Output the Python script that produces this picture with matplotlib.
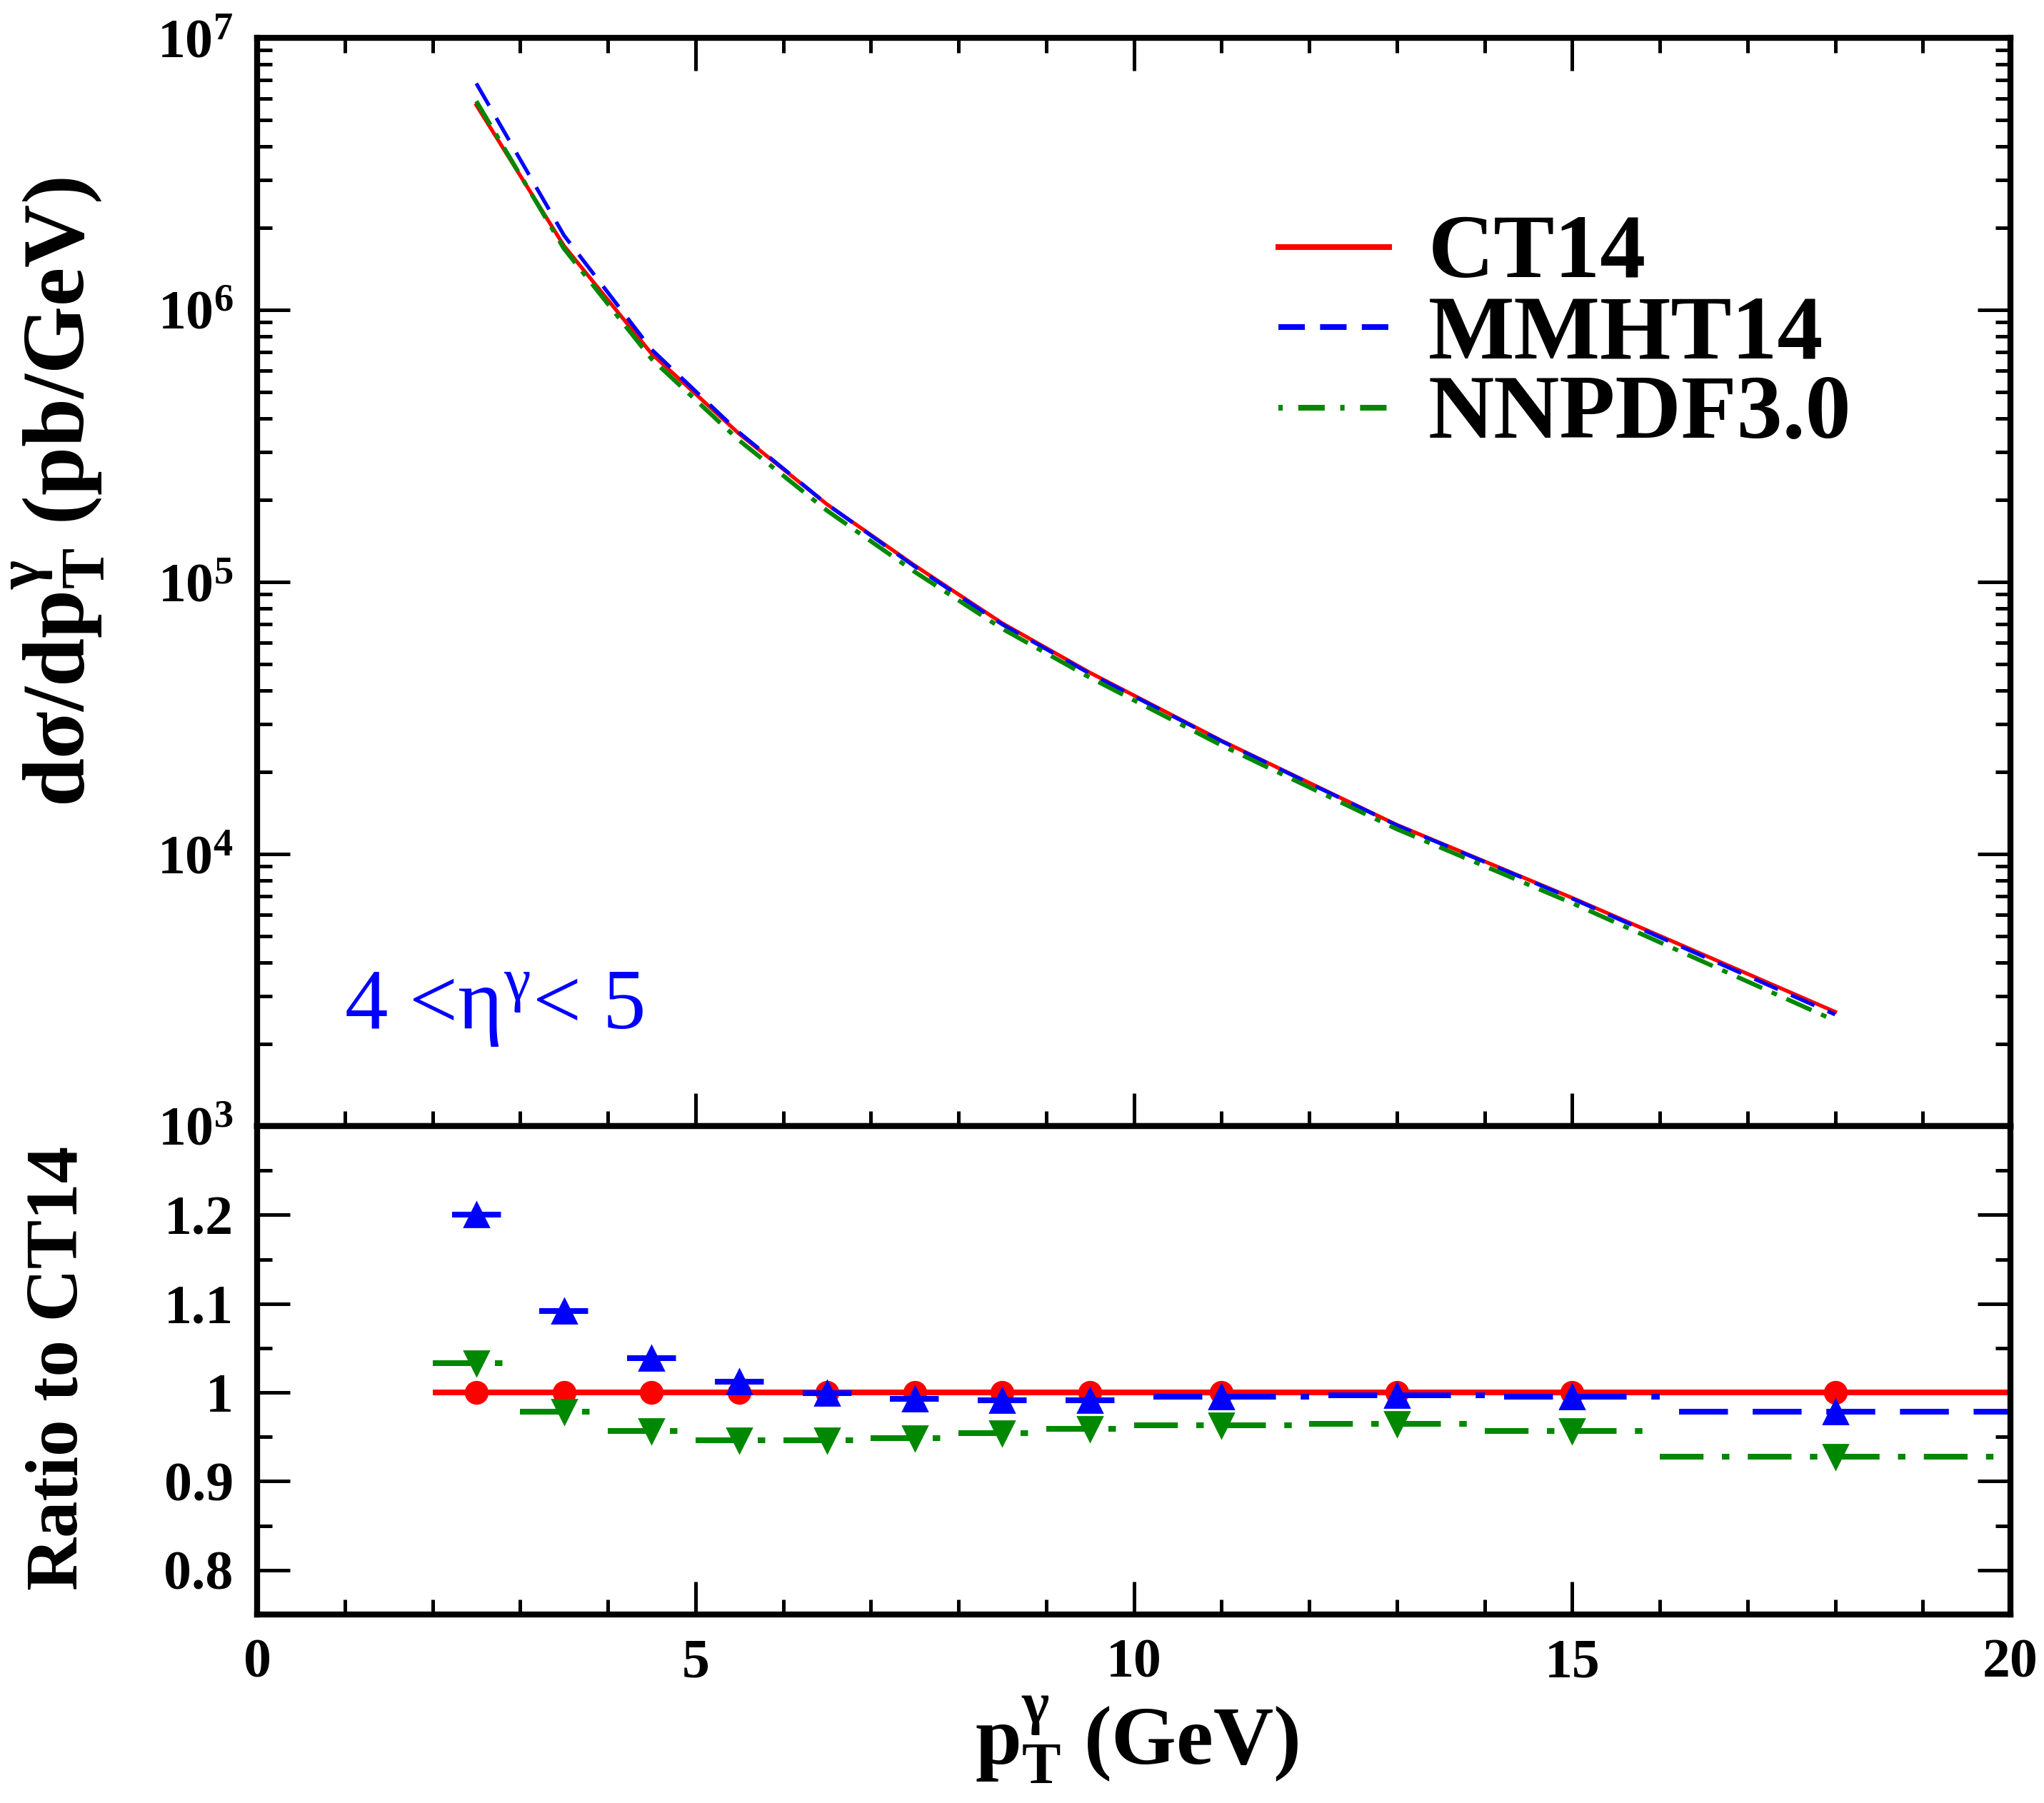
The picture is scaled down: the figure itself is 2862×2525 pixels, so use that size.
import numpy as np
import matplotlib.pyplot as plt
from matplotlib.ticker import MultipleLocator, LogLocator, FixedLocator, FuncFormatter, NullFormatter

# Times-like bold text everywhere, math uses the same font as the text
plt.rcParams['font.family'] = 'Liberation Serif'
plt.rcParams['font.weight'] = 'bold'
plt.rcParams['mathtext.fontset'] = 'custom'
plt.rcParams['mathtext.default'] = 'regular'

# pT bins (GeV)
pt = [2.5, 3.5, 4.5, 5.5, 6.5, 7.5, 8.5, 9.5, 11, 13, 15, 18]
bin_lo = [2, 3, 4, 5, 6, 7, 8, 9, 10, 12, 14, 16]
bin_hi = [3, 4, 5, 6, 7, 8, 9, 10, 12, 14, 16, 20]

# d sigma / d pT (pb/GeV)
xsec_ct14 = [5.66e6, 1.72e6, 6.9e5, 3.5e5, 1.93e5, 1.15e5, 7.05e4, 4.64e4, 2.61e4, 1.28e4, 6.9e3, 2.63e3]
xsec_mmht = [6.8e6, 1.88e6, 7.15e5, 3.54e5, 1.93e5, 1.14e5, 6.98e4, 4.6e4, 2.6e4, 1.276e4, 6.86e3, 2.57e3]
xsec_nnpdf = [5.85e6, 1.68e6, 6.6e5, 3.31e5, 1.83e5, 1.09e5, 6.73e4, 4.45e4, 2.51e4, 1.235e4, 6.6e3, 2.44e3]

# ratio to CT14
ratio_ct14 = [1.0, 1.0, 1.0, 1.0, 1.0, 1.0, 1.0, 1.0, 1.0, 1.0, 1.0, 1.0]
ratio_mmht = [1.200, 1.092, 1.039, 1.012, 0.999, 0.993, 0.991, 0.991, 0.995, 0.997, 0.995, 0.978]
ratio_nnpdf = [1.033, 0.978, 0.957, 0.946, 0.946, 0.949, 0.954, 0.959, 0.963, 0.965, 0.957, 0.928]

labels = ['CT14', 'MMHT14', 'NNPDF3.0']
colors = ['red', 'blue', '#008800']

fig = plt.figure(figsize=(14.31, 12.625), dpi=200)
ax1 = fig.add_axes([0.1258, 0.37545, 0.8578, 0.60356])
ax2 = fig.add_axes([0.1258, 0.10455, 0.8578, 0.2709])

# top panel: cross sections
ax1.plot(pt, xsec_ct14, color=colors[0], lw=1.9)
ax1.plot(pt, xsec_mmht, color=colors[1], lw=1.9, ls=(0, (6.8, 3.8)))
ax1.plot(pt, xsec_nnpdf, color=colors[2], lw=2.2, ls=(0, (6.3, 2.4, 1.3, 2.4)))
ax1.set_yscale('log')
ax1.set_xlim(0, 20)
ax1.set_ylim(1e3, 1e7)

# hand-made legend
leg_y = [0.8077, 0.7343, 0.6601]
txt_y = [0.7802, 0.7054, 0.6325]
leg_ls = ['-', (0, (4.6, 2.65)), (0, (0.75, 2.7, 4.6, 2.7))]
for i in range(3):
    ax1.plot([0.5825, 0.6456], [leg_y[i], leg_y[i]], transform=ax1.transAxes,
             color=colors[i], lw=2.9, ls=leg_ls[i])
    ax1.text(0.668, txt_y[i], labels[i], transform=ax1.transAxes, fontsize=46,
             va='baseline', ha='left')

ax1.text(0.99, 10**3.36, r'4 <$\eta^{\gamma}$< 5', color='blue', fontsize=43.5,
         fontweight='normal', va='baseline', ha='left')

# bottom panel: ratios, one segment per bin with a marker at the bin centre
ax2.hlines(ratio_ct14, bin_lo, bin_hi, colors=colors[0], lw=2.9)
ax2.plot(pt, ratio_ct14, 'o', color=colors[0], ms=11, ls='none')
ax2.hlines(ratio_mmht, bin_lo, bin_hi, colors=colors[1], lw=2.9,
           linestyles=[(9.45, (8.5, 4.3))])
ax2.plot(pt, ratio_mmht, '^', color=colors[1], ms=12, ls='none')
ax2.hlines(ratio_nnpdf, bin_lo, bin_hi, colors=colors[2], lw=2.9,
           linestyles=[(0, (7.6, 3.2, 1.3, 3.2))])
ax2.plot(pt, ratio_nnpdf, 'v', color=colors[2], ms=12, ls='none')
ax2.set_xlim(0, 20)
ax2.set_ylim(0.75, 1.30)

# axes styling
for ax in (ax1, ax2):
    for s in ax.spines.values():
        s.set_linewidth(3)
    ax.xaxis.set_major_locator(MultipleLocator(5))
    ax.xaxis.set_minor_locator(MultipleLocator(1))
    ax.tick_params(which='both', direction='in', width=1.8, labelsize=28, pad=12,
                   left=True, right=True)
    ax.tick_params(which='major', length=16.5)
    ax.tick_params(which='minor', length=7.6)

ax1.tick_params(which='both', top=True, bottom=True, labelbottom=False)
ax1.yaxis.set_major_locator(LogLocator(base=10, numticks=10))
ax1.yaxis.set_minor_locator(LogLocator(base=10, subs=np.arange(2, 10), numticks=50))
ax1.yaxis.set_minor_formatter(NullFormatter())

ax2.tick_params(which='both', top=False, bottom=True)
ax2.yaxis.set_major_locator(FixedLocator([0.8, 0.9, 1.0, 1.1, 1.2]))
ax2.yaxis.set_minor_locator(FixedLocator([0.85, 0.95, 1.05, 1.15, 1.25]))
ax2.yaxis.set_major_formatter(FuncFormatter(lambda v, p: '%g' % v))

# axis titles
fig.text(0.0285, 0.727, r'd$\sigma$/dp$_{T}^{\gamma}$ (pb/GeV)', rotation=90,
         ha='center', va='center', fontsize=44)
fig.text(0.0287, 0.2412, 'Ratio to CT14', rotation=90, ha='center', va='center', fontsize=37)
fig.text(0.556, 0.0349, r'p$_{T}^{\gamma}$ (GeV)', ha='center', va='center', fontsize=42)

fig.savefig('out.png', dpi=200)
